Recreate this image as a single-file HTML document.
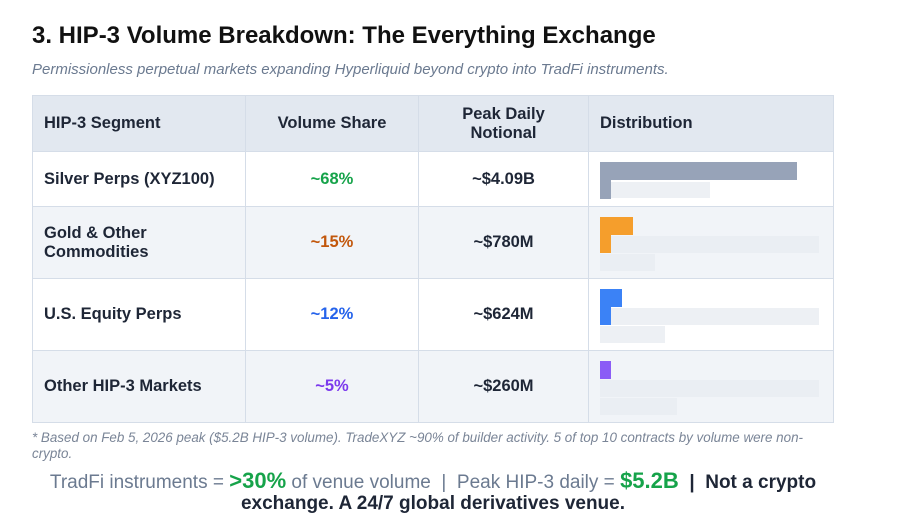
<!DOCTYPE html>
<html><head><meta charset="utf-8"><style>
body{margin:0;width:900px;height:530px;background:#fff;font-family:"Liberation Sans",sans-serif;position:relative;overflow:hidden}
.a{position:absolute;white-space:nowrap}
.t{left:32px;top:22px;font-size:24px;font-weight:bold;color:#111}
.s{left:32px;top:61px;font-size:15px;font-style:italic;color:#6b7a90}
table{position:absolute;left:32px;top:95px;border-collapse:collapse;width:802px;table-layout:fixed}
td,th{border:1px solid #d5dde8;font-size:16.5px;font-weight:bold;color:#1e2636;padding:0 11px}
th{background:#e2e8f0;height:55px;text-align:center}
th.l,td.l{text-align:left}
td{text-align:center}
tr.r1 td{height:54px;background:#fff}
tr.r2 td{height:71px;background:#f1f4f8}
tr.r3 td{height:71px;background:#fff}
tr.r4 td{height:71px;background:#f1f4f8}
.b{position:absolute}
.f{background:#e9ecf1;opacity:.8}
.fn{left:32px;top:430px;font-size:13.4px;font-style:italic;color:#7a8597;line-height:16px;white-space:normal;width:795px}
.bl{left:0;width:866px;text-align:center;font-size:19px;color:#6b7a90;top:468px}
.bl2{left:0;width:866px;text-align:center;font-size:19px;font-weight:bold;color:#1e2636;top:493px}
</style></head><body>
<div class="a t">3. HIP-3 Volume Breakdown: The Everything Exchange</div>
<div class="a s">Permissionless perpetual markets expanding Hyperliquid beyond crypto into TradFi instruments.</div>
<table>
<colgroup><col style="width:213px"><col style="width:173px"><col style="width:170px"><col></colgroup>
<tr><th class="l">HIP-3 Segment</th><th>Volume Share</th><th>Peak Daily<br>Notional</th><th class="l">Distribution</th></tr>
<tr class="r1"><td class="l">Silver Perps (XYZ100)</td><td style="color:#16a34a">~68%</td><td>~$4.09B</td><td></td></tr>
<tr class="r2"><td class="l">Gold &amp; Other<br>Commodities</td><td style="color:#c2570c">~15%</td><td>~$780M</td><td></td></tr>
<tr class="r3"><td class="l">U.S. Equity Perps</td><td style="color:#2563eb">~12%</td><td>~$624M</td><td></td></tr>
<tr class="r4"><td class="l">Other HIP-3 Markets</td><td style="color:#7c3aed">~5%</td><td>~$260M</td><td></td></tr>
</table>
<div class="b" style="left:600px;top:162px;width:197px;height:18px;background:#97a3b8"></div>
<div class="b" style="left:600px;top:180px;width:11px;height:19px;background:#97a3b8"></div>
<div class="b f" style="left:611px;top:182px;width:99px;height:16px"></div>

<div class="b" style="left:600px;top:217px;width:33px;height:18px;background:#f59e2c"></div>
<div class="b" style="left:600px;top:235px;width:11px;height:18px;background:#f59e2c"></div>
<div class="b f" style="left:611px;top:236px;width:208px;height:17px"></div>
<div class="b f" style="left:600px;top:254px;width:55px;height:17px"></div>

<div class="b" style="left:600px;top:289px;width:22px;height:18px;background:#3b82f6"></div>
<div class="b" style="left:600px;top:307px;width:11px;height:18px;background:#3b82f6"></div>
<div class="b f" style="left:611px;top:308px;width:208px;height:17px"></div>
<div class="b f" style="left:600px;top:326px;width:65px;height:17px"></div>

<div class="b" style="left:600px;top:361px;width:11px;height:18px;background:#8b5cf6"></div>
<div class="b f" style="left:600px;top:380px;width:219px;height:17px"></div>
<div class="b f" style="left:600px;top:398px;width:77px;height:17px"></div>

<div class="a fn">* Based on Feb 5, 2026 peak ($5.2B HIP-3 volume). TradeXYZ ~90% of builder activity. 5 of top 10 contracts by volume were non-crypto.</div>
<div class="a bl">TradFi instruments = <b style="color:#16a34a;font-size:22px">&gt;30%</b> of venue volume &nbsp;|&nbsp; Peak HIP-3 daily = <b style="color:#16a34a;font-size:22px">$5.2B</b> &nbsp;<b style="color:#1e2636">| &nbsp;Not a crypto</b></div>
<div class="a bl2">exchange. A 24/7 global derivatives venue.</div>
</body></html>
